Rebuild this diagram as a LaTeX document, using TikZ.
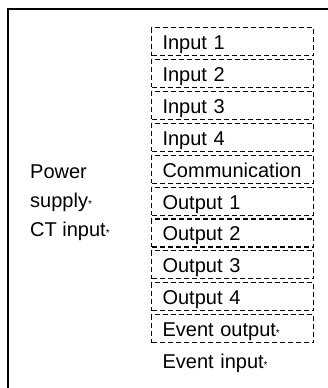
\documentclass[tikz,border=0pt]{standalone}
\usepackage{fontspec}
\setmainfont{Liberation Sans}
\newcommand{\smallstar}{{\fontsize{10}{10}\selectfont *}}
\begin{document}
\begin{tikzpicture}[x=1pt, y=1pt,
    every node/.style={font=\fontsize{20}{24}\selectfont},
    slot/.style={draw, dash pattern=on 5pt off 3pt, line width=1.1pt, rectangle,
      anchor=north west, minimum height=28pt, text width=140pt, inner xsep=11pt,
      align=left, text height=16pt, text depth=0pt},
    freeslot/.style={slot, draw=none}]
  \useasboundingbox (0,0) rectangle (328,-388);

  % Outer frame (cut off at the right and bottom)
  \coordinate (frameBL) at (8,-390);
  \coordinate (frameTL) at (8,-9);
  \coordinate (frameTR) at (330,-9);
  \draw[line width=2pt] (frameBL) -- (frameTL) -- (frameTR);

  % Terminal slots
  \node[slot] (in1) at (151,-27) {Input 1};
  \node[slot] (in2) at (151,-58.9) {Input 2};
  \node[slot] (in3) at (151,-90.8) {Input 3};
  \node[slot] (in4) at (151,-122.7) {Input 4};
  \node[slot] (comm) at (151,-154.6) {Communication};
  \node[slot] (out1) at (151,-186.5) {Output 1};
  \node[slot] (out2) at (151,-218.4) {Output 2};
  \node[slot] (out3) at (151,-250.3) {Output 3};
  \node[slot] (out4) at (151,-282.2) {Output 4};
  \node[slot] (evout) at (151,-314.1) {Event output\smallstar};
  \node[freeslot] (evin) at (151,-346) {Event input\smallstar};

  % Labels on the left
  \node[anchor=base west, inner sep=0pt] (power) at (30,-178) {Power};
  \node[anchor=base west, inner sep=0pt] (supply) at (30,-207) {supply\smallstar};
  \node[anchor=base west, inner sep=0pt] (ct) at (30,-236) {CT input\smallstar};
\end{tikzpicture}
\end{document}
